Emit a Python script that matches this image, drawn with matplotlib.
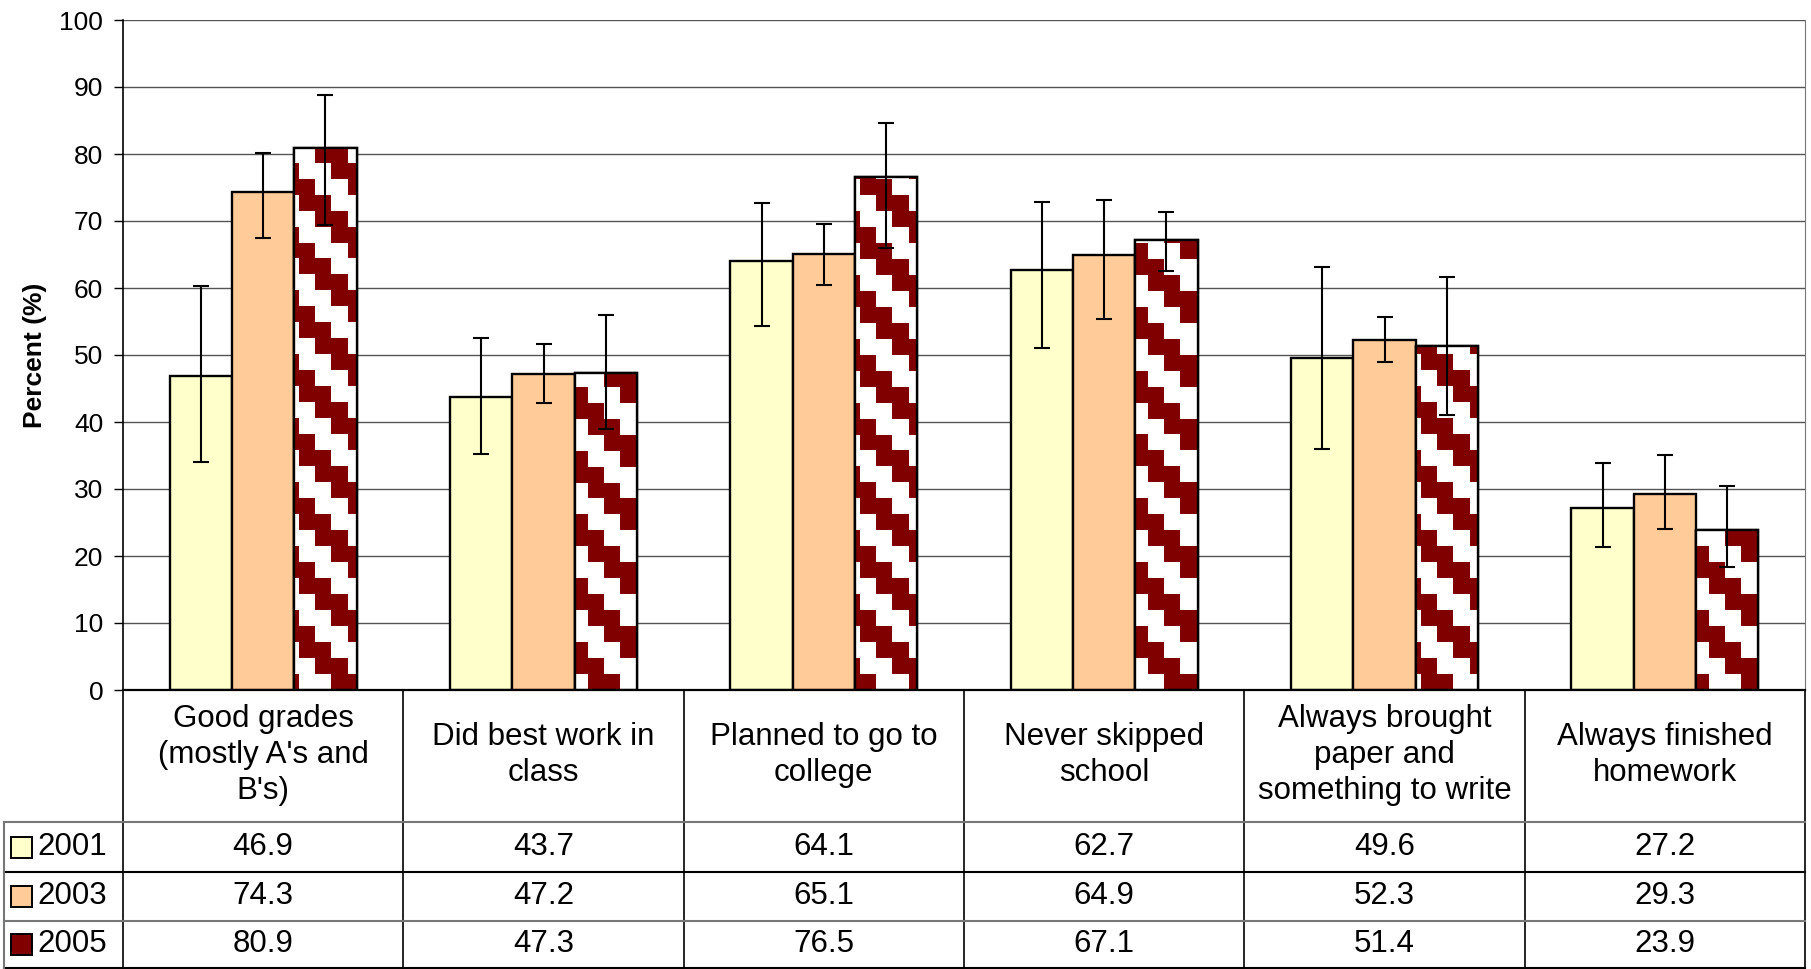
import numpy as np
import matplotlib
matplotlib.use("Agg")
import matplotlib.pyplot as plt
from matplotlib import transforms
from matplotlib.lines import Line2D
from matplotlib.patches import Rectangle

plt.rcParams['font.family'] = ['Liberation Sans', 'DejaVu Sans']

categories = ["Good grades\n(mostly A's and\nB's)", "Did best work in\nclass",
              "Planned to go to\ncollege", "Never skipped\nschool",
              "Always brought\npaper and\nsomething to write",
              "Always finished\nhomework"]
years = ["2001", "2003", "2005"]

v2001 = [46.9, 43.7, 64.1, 62.7, 49.6, 27.2]
v2003 = [74.3, 47.2, 65.1, 64.9, 52.3, 29.3]
v2005 = [80.9, 47.3, 76.5, 67.1, 51.4, 23.9]

# confidence interval ends
lo2001 = [34.0, 35.2, 54.4, 51.1, 36.0, 21.4]
hi2001 = [60.3, 52.6, 72.7, 72.9, 63.2, 33.9]
lo2003 = [67.4, 42.8, 60.4, 55.4, 49.0, 24.1]
hi2003 = [80.2, 51.6, 69.5, 73.2, 55.6, 35.1]
lo2005 = [69.4, 38.9, 65.9, 62.6, 41.1, 18.3]
hi2005 = [88.8, 55.9, 84.7, 71.3, 61.6, 30.5]

values = [v2001, v2003, v2005]
lows = [lo2001, lo2003, lo2005]
highs = [hi2001, hi2003, hi2005]
colors = ['#FFFFCC', '#FFCC99', '#FFFFFF']
dark_red = '#800000'

W, H = 1811, 969
fig = plt.figure(figsize=(W / 100, H / 100), dpi=100)


def fx(px):
    return px / W


def fy(py):
    return 1 - py / H


ax_left, ax_right, ax_top, ax_bottom = 123, 1805, 20, 690
ax = fig.add_axes([fx(ax_left), fy(ax_bottom), fx(ax_right - ax_left), (ax_bottom - ax_top) / H])

x = np.arange(len(categories))
w = 1 / 4.5

# stair-step pattern for 2005 bars (16 px blocks, period of 4 blocks)
ncols = int(round((ax_right - ax_left) / 16))
nrows = int(round((ax_bottom - ax_top) / 16))
rr, cc = np.mgrid[0:nrows, 0:ncols]
mask = ((cc - rr) % 4) < 2
pattern = np.ones((nrows, ncols, 3))
pattern[mask] = np.array([0x80, 0, 0]) / 255

for i, (vals, lo, hi, col) in enumerate(zip(values, lows, highs, colors)):
    pos = x + (i - 1) * w
    bars = ax.bar(pos, vals, w, color=col, edgecolor='black', linewidth=1.7, zorder=2)
    if i == 2:
        for b in bars:
            im = ax.imshow(pattern, extent=(-0.5, len(categories) - 0.5, 0, 100),
                           aspect='auto', interpolation='nearest', zorder=2.2)
            im.set_clip_path(b)
        ax.bar(pos, vals, w, color='none', edgecolor='black', linewidth=1.7, zorder=2.4)
    err = [np.array(vals) - np.array(lo), np.array(hi) - np.array(vals)]
    ax.errorbar(pos, vals, yerr=err, fmt='none', ecolor='black', elinewidth=1.5,
                capsize=5.8, capthick=1.5, zorder=3)

ax.set_xlim(-0.5, len(categories) - 0.5)
ax.set_ylim(0, 100)
ax.set_yticks(range(0, 101, 10))
ax.set_xticks([])
ax.tick_params(axis='y', direction='out', length=6.3, width=1, labelsize=19, pad=8)
ax.yaxis.grid(True, color='#555555', linewidth=1)
ax.set_axisbelow(True)
ax.spines['top'].set_visible(False)
ax.spines['right'].set_color('#777777')
ax.spines['left'].set_linewidth(1.2)
ax.spines['bottom'].set_linewidth(1.6)
ax.set_ylabel('Percent (%)', fontsize=19, fontweight='bold', labelpad=9)

# data table below the plot
bt = transforms.blended_transform_factory(ax.transData, fig.transFigure)
row_edges = [690, 822, 872, 921, 968]
for k in range(len(categories) + 1):
    fig.add_artist(Line2D([k - 0.5, k - 0.5], [fy(row_edges[0]), fy(H)], transform=bt,
                          color='black', linewidth=1.2))
for j, yy in enumerate(row_edges[1:]):
    c = '#777777' if j % 2 == 0 else 'black'
    fig.add_artist(Line2D([fx(4), fx(ax_right)], [fy(yy), fy(yy)], transform=fig.transFigure,
                          color=c, linewidth=1.5))
fig.add_artist(Line2D([fx(4), fx(4)], [fy(822), fy(H)], transform=fig.transFigure,
                      color='#777777', linewidth=1.5))

for k, cat in enumerate(categories):
    fig.text(k, fy(755), cat, transform=bt, ha='center', va='center', fontsize=22.5,
             linespacing=1.25)

swatch = ['#FFFFCC', '#FFCC99', dark_red]
for i, (yr, vals) in enumerate(zip(years, values)):
    yc = (row_edges[i + 1] + row_edges[i + 2]) / 2
    fig.add_artist(Rectangle((fx(11), fy(yc + 10.5)), fx(21), 21 / H, transform=fig.transFigure,
                             facecolor=swatch[i], edgecolor='black', linewidth=1.4))
    fig.text(fx(37), fy(yc), yr, ha='left', va='center', fontsize=22.5)
    for k, v in enumerate(vals):
        fig.text(k, fy(yc), f"{v:.1f}", transform=bt, ha='center', va='center', fontsize=22.5)

fig.savefig('out.png', dpi=100)
